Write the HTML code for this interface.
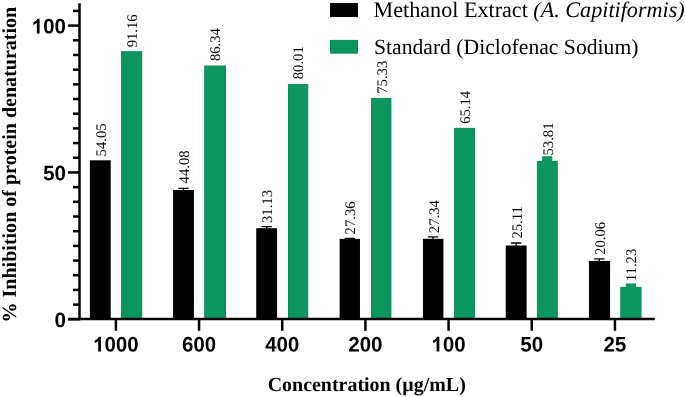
<!DOCTYPE html>
<html><head><meta charset="utf-8"><style>
html,body{margin:0;padding:0;background:#fff;width:685px;height:397px;overflow:hidden}
svg{display:block;will-change:transform;text-rendering:geometricPrecision}
.ax{stroke:#000;stroke-width:2.5;fill:none}
.v{font-family:"Liberation Serif",serif;font-size:14.7px;fill:#000}
.xl{font-family:"Liberation Sans",sans-serif;font-weight:bold;font-size:20.4px;text-anchor:middle;fill:#000}
.yl{font-family:"Liberation Sans",sans-serif;font-weight:bold;font-size:20.4px;text-anchor:end;fill:#000}
.t{font-family:"Liberation Serif",serif;font-weight:bold;fill:#000}
.lg{font-family:"Liberation Serif",serif;fill:#000}
</style></head><body>
<svg width="685" height="397" viewBox="0 0 685 397">
<defs><path id="d0" d="M1055 705Q1055 348 932.5 164.0Q810 -20 565 -20Q81 -20 81 705Q81 958 134.0 1118.0Q187 1278 293.0 1354.0Q399 1430 573 1430Q823 1430 939.0 1249.0Q1055 1068 1055 705ZM773 705Q773 900 754.0 1008.0Q735 1116 693.0 1163.0Q651 1210 571 1210Q486 1210 442.5 1162.5Q399 1115 380.5 1007.5Q362 900 362 705Q362 512 381.5 403.5Q401 295 443.5 248.0Q486 201 567 201Q647 201 690.5 250.5Q734 300 753.5 409.0Q773 518 773 705Z"/><path id="d1" d="M780 0H506V1030Q356 890 152 823V1071Q259 1106 385 1204Q511 1302 558 1432H780Z"/><path id="d2" d="M71 0V195Q126 316 227.5 431.0Q329 546 483 671Q631 791 690.5 869.0Q750 947 750 1022Q750 1206 565 1206Q475 1206 427.5 1157.5Q380 1109 366 1012L83 1028Q107 1224 229.5 1327.0Q352 1430 563 1430Q791 1430 913.0 1326.0Q1035 1222 1035 1034Q1035 935 996.0 855.0Q957 775 896.0 707.5Q835 640 760.5 581.0Q686 522 616.0 466.0Q546 410 488.5 353.0Q431 296 403 231H1057V0Z"/><path id="d4" d="M940 287V0H672V287H31V498L626 1409H940V496H1128V287ZM672 957Q672 1011 675.5 1074.0Q679 1137 681 1155Q655 1099 587 993L260 496H672Z"/><path id="d5" d="M1082 469Q1082 245 942.5 112.5Q803 -20 560 -20Q348 -20 220.5 75.5Q93 171 63 352L344 375Q366 285 422.0 244.0Q478 203 563 203Q668 203 730.5 270.0Q793 337 793 463Q793 574 734.0 640.5Q675 707 569 707Q452 707 378 616H104L153 1409H1000V1200H408L385 844Q487 934 640 934Q841 934 961.5 809.0Q1082 684 1082 469Z"/><path id="d6" d="M1065 461Q1065 236 939.0 108.0Q813 -20 591 -20Q342 -20 208.5 154.5Q75 329 75 672Q75 1049 210.5 1239.5Q346 1430 598 1430Q777 1430 880.5 1351.0Q984 1272 1027 1106L762 1069Q724 1208 592 1208Q479 1208 414.5 1095.0Q350 982 350 752Q395 827 475.0 867.0Q555 907 656 907Q845 907 955.0 787.0Q1065 667 1065 461ZM783 453Q783 573 727.5 636.5Q672 700 575 700Q482 700 426.0 640.5Q370 581 370 483Q370 360 428.5 279.5Q487 199 582 199Q677 199 730.0 266.5Q783 334 783 453Z"/></defs>
<rect x="89.90" y="160.30" width="20.85" height="159.00" fill="#000"/>
<rect x="121.55" y="51.70" width="20.15" height="267.10" fill="#0b9660" stroke="#088b58" stroke-width="1"/>
<text transform="translate(105.92,156.40) rotate(-90)" class="v">54.05</text>
<text transform="translate(137.07,47.37) rotate(-90)" class="v">91.16</text>
<line x1="115.90" y1="319.30" x2="115.90" y2="330.8" class="ax"/>
<use href="#d1" transform="translate(93.18,351.50) scale(0.00998,-0.01023)"/><use href="#d0" transform="translate(104.54,351.50) scale(0.00998,-0.01023)"/><use href="#d0" transform="translate(115.90,351.50) scale(0.00998,-0.01023)"/><use href="#d0" transform="translate(127.26,351.50) scale(0.00998,-0.01023)"/>
<rect x="173.07" y="190.00" width="20.85" height="129.30" fill="#000"/>
<rect x="204.72" y="66.00" width="20.75" height="252.80" fill="#0b9660" stroke="#088b58" stroke-width="1"/>
<path d="M178.34 187.70h10.3v1.35h-4.5V190.50h-1.3V189.05h-4.5z" fill="#000"/>
<text transform="translate(189.09,183.39) rotate(-90)" class="v">44.08</text>
<text transform="translate(220.24,61.09) rotate(-90)" class="v">86.34</text>
<line x1="199.07" y1="319.30" x2="199.07" y2="330.8" class="ax"/>
<use href="#d6" transform="translate(182.03,351.50) scale(0.00998,-0.01023)"/><use href="#d0" transform="translate(193.39,351.50) scale(0.00998,-0.01023)"/><use href="#d0" transform="translate(204.75,351.50) scale(0.00998,-0.01023)"/>
<rect x="256.24" y="228.20" width="20.85" height="91.10" fill="#000"/>
<rect x="288.49" y="84.60" width="19.25" height="234.20" fill="#0b9660" stroke="#088b58" stroke-width="1"/>
<path d="M261.52 226.00h10.3v1.35h-4.5V228.70h-1.3V227.35h-4.5z" fill="#000"/>
<text transform="translate(272.27,223.05) rotate(-90)" class="v">31.13</text>
<text transform="translate(303.42,79.30) rotate(-90)" class="v">80.01</text>
<line x1="282.24" y1="319.30" x2="282.24" y2="330.8" class="ax"/>
<use href="#d4" transform="translate(265.20,351.50) scale(0.00998,-0.01023)"/><use href="#d0" transform="translate(276.56,351.50) scale(0.00998,-0.01023)"/><use href="#d0" transform="translate(287.92,351.50) scale(0.00998,-0.01023)"/>
<rect x="339.61" y="238.90" width="20.35" height="80.40" fill="#000"/>
<rect x="371.56" y="98.40" width="19.35" height="220.40" fill="#0b9660" stroke="#088b58" stroke-width="1"/>
<path d="M344.69 237.70h10.3v1.35h-4.5V239.40h-1.3V239.05h-4.5z" fill="#000"/>
<text transform="translate(355.44,234.40) rotate(-90)" class="v">27.36</text>
<text transform="translate(386.58,93.80) rotate(-90)" class="v">75.33</text>
<line x1="365.41" y1="319.30" x2="365.41" y2="330.8" class="ax"/>
<use href="#d2" transform="translate(348.37,351.50) scale(0.00998,-0.01023)"/><use href="#d0" transform="translate(359.73,351.50) scale(0.00998,-0.01023)"/><use href="#d0" transform="translate(371.09,351.50) scale(0.00998,-0.01023)"/>
<rect x="422.98" y="238.80" width="20.45" height="80.50" fill="#000"/>
<rect x="454.63" y="128.40" width="19.85" height="190.40" fill="#0b9660" stroke="#088b58" stroke-width="1"/>
<path d="M427.86 236.20h10.3v1.35h-4.5V239.30h-1.3V237.55h-4.5z" fill="#000"/>
<text transform="translate(438.61,233.18) rotate(-90)" class="v">27.34</text>
<text transform="translate(469.76,123.86) rotate(-90)" class="v">65.14</text>
<line x1="448.58" y1="319.30" x2="448.58" y2="330.8" class="ax"/>
<use href="#d1" transform="translate(431.54,351.50) scale(0.00998,-0.01023)"/><use href="#d0" transform="translate(442.90,351.50) scale(0.00998,-0.01023)"/><use href="#d0" transform="translate(454.26,351.50) scale(0.00998,-0.01023)"/>
<rect x="505.75" y="245.50" width="20.85" height="73.80" fill="#000"/>
<rect x="537.40" y="161.50" width="19.85" height="157.30" fill="#0b9660" stroke="#088b58" stroke-width="1"/>
<path d="M511.02 242.30h10.3v1.35h-4.5V246.00h-1.3V243.65h-4.5z" fill="#000"/>
<rect x="542.12" y="156.20" width="10.2" height="5.30" fill="#0b9660"/>
<text transform="translate(521.77,238.60) rotate(-90)" class="v">25.11</text>
<text transform="translate(552.93,155.50) rotate(-90)" class="v">53.81</text>
<line x1="531.75" y1="319.30" x2="531.75" y2="330.8" class="ax"/>
<use href="#d5" transform="translate(520.39,351.50) scale(0.00998,-0.01023)"/><use href="#d0" transform="translate(531.75,351.50) scale(0.00998,-0.01023)"/>
<rect x="588.92" y="260.90" width="21.15" height="58.40" fill="#000"/>
<rect x="620.77" y="287.40" width="20.25" height="31.40" fill="#0b9660" stroke="#088b58" stroke-width="1"/>
<path d="M594.19 258.20h10.3v1.35h-4.5V261.40h-1.3V259.55h-4.5z" fill="#000"/>
<rect x="625.79" y="283.50" width="10.2" height="3.90" fill="#0b9660"/>
<text transform="translate(604.94,254.88) rotate(-90)" class="v">20.06</text>
<text transform="translate(636.10,281.22) rotate(-90)" class="v">11.23</text>
<line x1="614.92" y1="319.30" x2="614.92" y2="330.8" class="ax"/>
<use href="#d2" transform="translate(603.56,351.50) scale(0.00998,-0.01023)"/><use href="#d5" transform="translate(614.92,351.50) scale(0.00998,-0.01023)"/>
<line x1="68" y1="319.30" x2="79.5" y2="319.30" class="ax"/>
<line x1="73" y1="304.62" x2="79.5" y2="304.62" class="ax"/>
<line x1="73" y1="289.93" x2="79.5" y2="289.93" class="ax"/>
<line x1="73" y1="275.25" x2="79.5" y2="275.25" class="ax"/>
<line x1="73" y1="260.56" x2="79.5" y2="260.56" class="ax"/>
<line x1="73" y1="245.88" x2="79.5" y2="245.88" class="ax"/>
<line x1="73" y1="231.19" x2="79.5" y2="231.19" class="ax"/>
<line x1="73" y1="216.51" x2="79.5" y2="216.51" class="ax"/>
<line x1="73" y1="201.82" x2="79.5" y2="201.82" class="ax"/>
<line x1="73" y1="187.14" x2="79.5" y2="187.14" class="ax"/>
<line x1="68" y1="172.45" x2="79.5" y2="172.45" class="ax"/>
<line x1="73" y1="157.77" x2="79.5" y2="157.77" class="ax"/>
<line x1="73" y1="143.08" x2="79.5" y2="143.08" class="ax"/>
<line x1="73" y1="128.40" x2="79.5" y2="128.40" class="ax"/>
<line x1="73" y1="113.71" x2="79.5" y2="113.71" class="ax"/>
<line x1="73" y1="99.03" x2="79.5" y2="99.03" class="ax"/>
<line x1="73" y1="84.34" x2="79.5" y2="84.34" class="ax"/>
<line x1="73" y1="69.66" x2="79.5" y2="69.66" class="ax"/>
<line x1="73" y1="54.97" x2="79.5" y2="54.97" class="ax"/>
<line x1="73" y1="40.29" x2="79.5" y2="40.29" class="ax"/>
<line x1="68" y1="25.60" x2="79.5" y2="25.60" class="ax"/>
<line x1="73" y1="10.92" x2="79.5" y2="10.92" class="ax"/>
<use href="#d0" transform="translate(54.54,327.10) scale(0.00998,-0.01023)"/>
<use href="#d5" transform="translate(43.18,180.25) scale(0.00998,-0.01023)"/><use href="#d0" transform="translate(54.54,180.25) scale(0.00998,-0.01023)"/>
<use href="#d1" transform="translate(31.81,33.40) scale(0.00998,-0.01023)"/><use href="#d0" transform="translate(43.18,33.40) scale(0.00998,-0.01023)"/><use href="#d0" transform="translate(54.54,33.40) scale(0.00998,-0.01023)"/>
<line x1="79.5" y1="3.3" x2="79.5" y2="320.2" class="ax"/>
<line x1="68.5" y1="319.1" x2="654.8" y2="319.1" class="ax" stroke-width="2.2"/>
<text transform="translate(15.9,322.5) rotate(-90)" class="t" font-size="20.05">% Inhibition of protein denaturation</text>
<text x="267.7" y="390.8" class="t" font-size="19.95">Concentration (µg/mL)</text>
<rect x="330" y="3" width="28" height="14" fill="#000"/>
<rect x="330.5" y="40.4" width="27" height="12.7" fill="#0b9660" stroke="#088b58" stroke-width="1"/>
<text x="373.5" y="16.9" class="lg" font-size="22.15">Methanol Extract <tspan font-style="italic">(A. Capitiformis)</tspan></text>
<text x="374" y="53.6" class="lg" font-size="21.65">Standard (Diclofenac Sodium)</text>
</svg>
</body></html>
